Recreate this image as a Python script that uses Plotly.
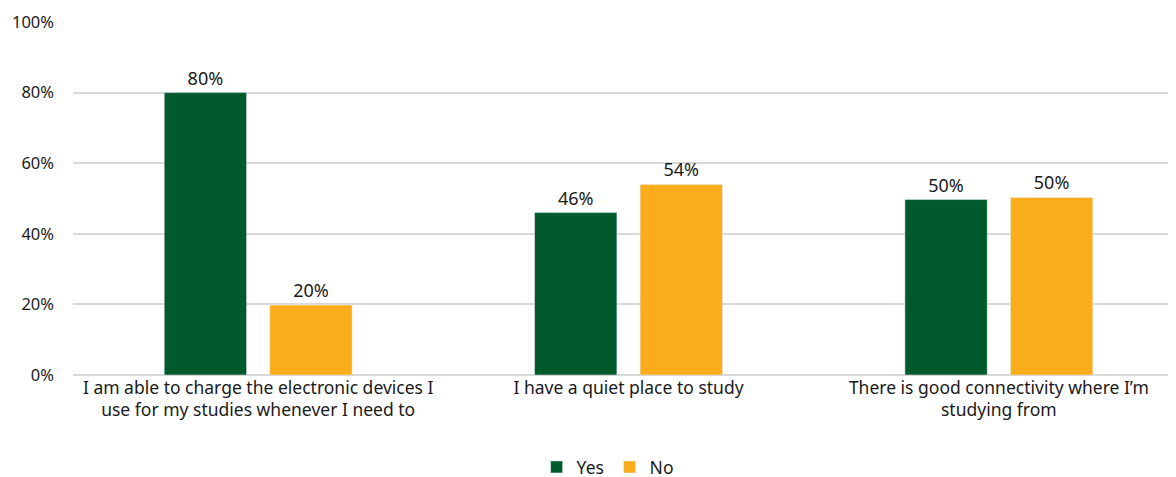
import plotly.graph_objects as go

categories = [
    "I am able to charge the electronic devices I<br>use for my studies whenever I need to",
    "I have a quiet place to study",
    "There is good connectivity where I’m<br>studying from",
]
yes_values = [80, 46, 49.7]
no_values = [19.8, 54, 50.3]
tick_vals = [0, 20, 40, 60, 80, 100]
tick_text = ["0%", "20%", "40%", "60%", "80%", "100%"]

font_family = "Noto Sans, Open Sans, sans-serif"

fig = go.Figure()
fig.add_trace(go.Bar(
    x=categories, y=yes_values, name="Yes",
    marker=dict(color="#005A2B"),
    text=yes_values, texttemplate="%{y:.0f}%", textposition="outside",
    textfont=dict(size=18, color="#1a1a1a"), cliponaxis=False,
))
fig.add_trace(go.Bar(
    x=categories, y=no_values, name="No",
    marker=dict(color="#FBAC1B"),
    text=no_values, texttemplate="%{y:.0f}%", textposition="outside",
    textfont=dict(size=18, color="#1a1a1a"), cliponaxis=False,
))

# page body adds an 8px offset, so margins are trimmed by that amount
fig.update_layout(
    width=1176,
    height=477,
    barmode="group",
    bargap=0.43,
    bargroupgap=0.22,
    plot_bgcolor="white",
    paper_bgcolor="white",
    font=dict(family=font_family, size=16, color="#1a1a1a"),
    margin=dict(l=65, r=0, t=14, b=109),
    showlegend=True,
    legend=dict(
        orientation="h", x=0.483, xanchor="center", y=-0.26, yanchor="middle",
        font=dict(size=17.5), itemwidth=30, traceorder="normal",
        entrywidth=28, entrywidthmode="pixels",
    ),
    xaxis=dict(
        range=[-0.5, 2.5], showgrid=False, showline=False, ticks="",
        tickfont=dict(size=17.5), automargin=False,
    ),
    yaxis=dict(
        range=[0, 100], tickvals=tick_vals, ticktext=tick_text,
        showgrid=True, gridcolor="#D9D9D9", gridwidth=1.5,
        zeroline=True, zerolinecolor="#D9D9D9", zerolinewidth=1.5,
        showline=False, ticks="", ticklabelstandoff=18,
        tickfont=dict(size=16.5), automargin=False,
    ),
)

fig.write_html("out.html")
